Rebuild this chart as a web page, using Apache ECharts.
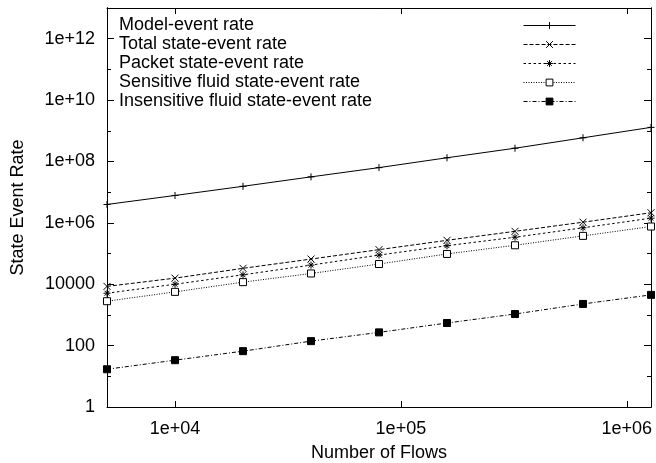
<!DOCTYPE html>
<html>
<head>
<meta charset="utf-8">
<script src="https://cdn.jsdelivr.net/npm/echarts@6/dist/echarts.min.js"></script>
<style>
html, body { margin: 0; padding: 0; background: #fff; }
#chart { width: 656px; height: 463px; }
</style>
</head>
<body>
<div id="chart"></div>
<script>
var flows = [5000, 10000, 20000, 40000, 80000, 160000, 320000, 640000, 1280000];
var modelRate = [3.97e6, 7.8e6, 1.55e7, 3.15e7, 6.3e7, 1.32e8, 2.7e8, 5.9e8, 1.29e9];
var totalRate = [8500, 15800, 33000, 66000, 134000, 270000, 530000, 1050000, 2130000];
var packetRate = [5100, 10000, 20300, 42000, 89000, 180000, 340000, 690000, 1420000];
var sensitiveRate = [2800, 5640, 11700, 22400, 45500, 97000, 186000, 376000, 760000];
var insensitiveRate = [17, 33.5, 66, 140, 270, 545, 1070, 2280, 4500];

var seriesNames = [
  "Model-event rate",
  "Total state-event rate",
  "Packet state-event rate",
  "Sensitive fluid state-event rate",
  "Insensitive fluid state-event rate"
];

var yTickValues = [1, 100, 1e4, 1e6, 1e8, 1e10, 1e12];
var yTickLabels = ["1", "100", "10000", "1e+06", "1e+08", "1e+10", "1e+12"];
var xTickValues = [1e4, 1e5, 1e6];
var xTickLabels = ["1e+04", "1e+05", "1e+06"];
// y range in decades (1 .. 1e13), used by the tick-only axes
var yDecades = [0, 13];

var FONT = "Liberation Sans";

function pick(values, labels) {
  return function (v) {
    for (var i = 0; i < values.length; i++) {
      if (Math.abs(Math.log10(values[i]) - Math.log10(v)) < 1e-6) return labels[i];
    }
    return "";
  };
}

function pairs(ys) {
  return flows.map(function (f, i) { return [f, ys[i]]; });
}

var ec = echarts.init(document.getElementById("chart"), null, { renderer: "canvas" });

function xAx(pos, showLabel) {
  return {
    type: "log", position: pos, min: 5000, max: 1280000,
    axisLine: { show: true, onZero: false, lineStyle: { color: "#000", width: 1 } },
    axisTick: { show: true, inside: true, length: 6, lineStyle: { color: "#000", width: 1 } },
    axisLabel: {
      show: showLabel, customValues: xTickValues, margin: 13,
      color: "#000", fontFamily: FONT, fontSize: 18,
      formatter: pick(xTickValues, xTickLabels)
    },
    splitLine: { show: false },
    name: showLabel ? "Number of Flows" : "",
    nameLocation: "middle", nameGap: 37,
    nameTextStyle: { color: "#000", fontFamily: FONT, fontSize: 18 }
  };
}

// tick-only axis in decade space
function tickAx(pos, step, len) {
  return {
    type: "value", position: pos, min: yDecades[0], max: yDecades[1], interval: step,
    axisLine: { show: true, onZero: false, lineStyle: { color: "#000", width: 1 } },
    axisTick: { show: true, inside: true, length: len, lineStyle: { color: "#000", width: 1 } },
    axisLabel: { show: false },
    splitLine: { show: false }
  };
}

var symPlus = "path://M0,5L10,5M5,0L5,10";
var symX = "path://M0,0L10,10M10,0L0,10";
var symStar = "path://M0,5L10,5M5,0L5,10M1.5,1.5L8.5,8.5M8.5,1.5L1.5,8.5";

function line(name, ys, symbol, dash, fill) {
  return {
    name: name, type: "line", data: pairs(ys),
    xAxisIndex: 0, yAxisIndex: 0,
    symbol: symbol, symbolSize: 7, showSymbol: true,
    color: "#000",
    lineStyle: { color: "#000", width: 1, type: dash },
    itemStyle: { color: fill, borderColor: "#000", borderWidth: 1 },
    emphasis: { disabled: true }
  };
}

var legendText = { color: "#000", fontFamily: FONT, fontSize: 18, lineHeight: 19 };

var option = {
  animation: false,
  backgroundColor: "#fff",
  grid: { left: 107, right: 5, top: 8, bottom: 56, show: false, outerBoundsMode: "none", containLabel: false },
  legend: [
    {
      data: seriesNames, orient: "vertical", left: 108, top: 11,
      itemWidth: 0, itemHeight: 0, itemGap: 0,
      selectedMode: false, textStyle: legendText,
      itemStyle: { opacity: 0 }, lineStyle: { opacity: 0 }
    },
    {
      data: seriesNames, orient: "vertical", left: 518, top: 11,
      itemWidth: 52, itemHeight: 8.5, itemGap: 0,
      selectedMode: false, textStyle: legendText,
      formatter: function () { return " "; },
      itemStyle: { borderWidth: 1 }, lineStyle: { width: 1 }
    }
  ],
  xAxis: [xAx("bottom", true), xAx("top", false)],
  yAxis: [
    {
      type: "log", position: "left", min: 1, max: 1e13,
      axisLine: { show: true, onZero: false, lineStyle: { color: "#000", width: 1 } },
      axisTick: { show: false },
      axisLabel: {
        customValues: yTickValues, margin: 12,
        color: "#000", fontFamily: FONT, fontSize: 18,
        formatter: pick(yTickValues, yTickLabels)
      },
      splitLine: { show: false },
      name: "State Event Rate",
      nameLocation: "middle", nameGap: 80, nameRotate: 90,
      nameTextStyle: { color: "#000", fontFamily: FONT, fontSize: 18 }
    },
    tickAx("left", 2, 7),
    tickAx("left", 1, 4),
    tickAx("right", 2, 7),
    tickAx("right", 1, 4)
  ],
  series: [
    line(seriesNames[0], modelRate, symPlus, "solid", "#000"),
    line(seriesNames[1], totalRate, symX, [4, 2], "#000"),
    line(seriesNames[2], packetRate, symStar, [2.5, 2.5], "#000"),
    line(seriesNames[3], sensitiveRate, "rect", [1, 1.5], "#fff"),
    line(seriesNames[4], insensitiveRate, "rect", [4, 2, 1, 2], "#000")
  ]
};

ec.setOption(option);
window.onresize = function () { ec.resize(); };
</script>
</body>
</html>
